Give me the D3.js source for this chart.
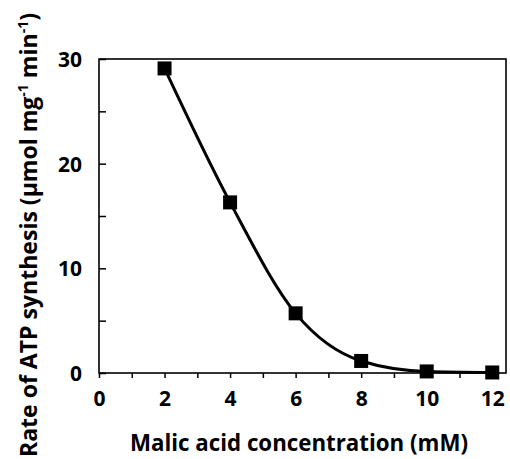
<!doctype html>
<html>
<head>
  <meta charset="utf-8">
  <script src="https://d3js.org/d3.v7.min.js"></script>
  <style>
    html, body { margin: 0; padding: 0; background: #fff; overflow: hidden; }
    svg { display: block; }
    text { font-family: "Open Sans", Lato, sans-serif; font-weight: bold; fill: #000; }
  </style>
</head>
<body>
  <script>
    // data
    var malicAcid = [2, 4, 6, 8, 10, 12];
    var atpRate = [29.1, 16.3, 5.7, 1.15, 0.15, 0.05];
    var xTickLabels = [0, 2, 4, 6, 8, 10, 12];
    var yTickLabels = [0, 10, 20, 30];

    var width = 510, height = 459;
    var margin = { left: 99, right: 3, top: 59, bottom: 86 };
    var plotW = width - margin.left - margin.right;
    var plotH = height - margin.top - margin.bottom;

    var svg = d3.select("body").append("svg")
      .attr("width", width)
      .attr("height", height);

    var x = d3.scaleLinear().domain([0, 12.45]).range([0, plotW]);
    var y = d3.scaleLinear().domain([0, 30]).range([plotH, 0]);

    var g = svg.append("g")
      .attr("transform", "translate(" + margin.left + "," + margin.top + ")");

    // x axis: ticks every 1, labels every 2
    var xAxis = d3.axisBottom(x)
      .tickValues(d3.range(0, 13, 1))
      .tickSize(5)
      .tickFormat(function(d) { return xTickLabels.indexOf(d) >= 0 ? d : ""; });
    var gx = g.append("g").attr("transform", "translate(0," + plotH + ")").call(xAxis);
    gx.select(".domain").remove();
    gx.selectAll("line").attr("stroke-width", 1.5);
    gx.selectAll("text").attr("font-size", 21).attr("dy", "1.2em");

    // y axis: ticks inside, every 5
    var yAxis = d3.axisLeft(y)
      .tickValues(d3.range(0, 31, 5))
      .tickSize(-7)
      .tickPadding(17)
      .tickFormat(function(d) { return yTickLabels.indexOf(d) >= 0 ? d : ""; });
    var gy = g.append("g").call(yAxis);
    gy.select(".domain").remove();
    gy.selectAll("line").attr("stroke-width", 1.5);
    gy.selectAll("text").attr("font-size", 21).attr("dy", "0.35em");

    // frame drawn after the axes
    g.append("rect")
      .attr("x", 0).attr("y", 0)
      .attr("width", plotW - 1).attr("height", plotH)
      .attr("fill", "none").attr("stroke", "#000").attr("stroke-width", 1.6);

    // smooth line through points
    var pts = malicAcid.map(function(d, i) { return [d, atpRate[i]]; });
    var line = d3.line()
      .x(function(d) { return x(d[0]); })
      .y(function(d) { return y(d[1]); })
      .curve(d3.curveMonotoneX);
    g.append("path")
      .datum(pts)
      .attr("d", line)
      .attr("fill", "none")
      .attr("stroke", "#000")
      .attr("stroke-width", 3);

    // square markers
    var s = 14;
    g.selectAll("rect.pt")
      .data(pts)
      .enter().append("rect")
      .attr("class", "pt")
      .attr("x", function(d) { return x(d[0]) - s / 2; })
      .attr("y", function(d) { return y(d[1]) - s / 2; })
      .attr("width", s).attr("height", s)
      .attr("fill", "#000");

    // axis titles
    svg.append("text")
      .attr("x", 299).attr("y", 451)
      .attr("text-anchor", "middle")
      .attr("font-size", 23)
      .attr("textLength", 338)
      .attr("lengthAdjust", "spacingAndGlyphs")
      .text("Malic acid concentration (mM)");

    var yt = svg.append("text")
      .attr("transform", "translate(37,235) rotate(-90)")
      .attr("text-anchor", "middle")
      .attr("font-size", 23)
      .attr("textLength", 444)
      .attr("lengthAdjust", "spacingAndGlyphs");
    yt.append("tspan").text("Rate of ATP synthesis (µmol mg");
    yt.append("tspan").attr("font-size", 14).attr("dy", -9).text("-1");
    yt.append("tspan").attr("dy", 9).text(" min");
    yt.append("tspan").attr("font-size", 14).attr("dy", -9).text("-1");
    yt.append("tspan").attr("dy", 9).text(")");
  </script>
</body>
</html>
